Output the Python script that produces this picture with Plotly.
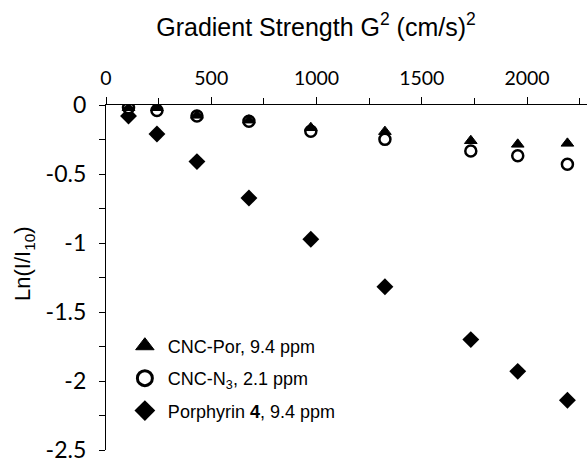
import plotly.graph_objects as go

# Data
g2 = [107, 242, 432, 679, 973, 1325, 1733, 1956, 2192]
cnc_por = [-0.02, -0.02, -0.075, -0.11, -0.165, -0.193, -0.259, -0.285, -0.278]
cnc_n3 = [-0.02, -0.04, -0.08, -0.118, -0.19, -0.249, -0.333, -0.367, -0.43]
porphyrin = [-0.08, -0.21, -0.41, -0.674, -0.973, -1.317, -1.70, -1.93, -2.14]

names = ["CNC-Por, 9.4 ppm", "CNC-N<sub>3</sub>, 2.1 ppm", "Porphyrin <b>4</b>, 9.4 ppm"]

x_tick_vals = [0, 500, 1000, 1500, 2000]
x_tick_text = ["0", "500", "1000", "1500", "2000"]
y_tick_vals = [0, -0.5, -1, -1.5, -2, -2.5]
y_tick_text = ["0", "-0.5", "-1", "-1.5", "-2", "-2.5"]

W, H = 587, 466
ML, MR, MT, MB = 106, 0, 105, 16
PW, PH = W - ML - MR, H - MT - MB

fig = go.Figure()

# data traces (draw order: diamonds, circles, triangles)
fig.add_trace(go.Scatter(x=g2, y=porphyrin, mode="markers", showlegend=False,
                         marker=dict(symbol="diamond", size=13, color="black",
                                     line=dict(width=0))))
fig.add_trace(go.Scatter(x=g2, y=cnc_n3, mode="markers", showlegend=False,
                         marker=dict(symbol="circle", size=11, color="white",
                                     line=dict(width=2.5, color="black"))))
fig.add_trace(go.Scatter(x=g2, y=cnc_por, mode="markers", showlegend=False,
                         marker=dict(symbol="triangle-up", size=11, color="black",
                                     line=dict(width=1, color="black"))))

# legend entries
leg_styles = [
    dict(symbol="triangle-up", size=16, color="black", line=dict(width=1, color="black")),
    dict(symbol="circle", size=15, color="white", line=dict(width=3, color="black")),
    dict(symbol="diamond", size=16, color="black", line=dict(width=0)),
]
for i, (nm, mk) in enumerate(zip(names, leg_styles)):
    fig.add_trace(go.Scatter(x=[None], y=[None], mode="markers", name=nm,
                             marker=mk, legendgroup=f"g{i}", legendrank=i + 1))

fig.update_layout(
    width=W, height=H,
    margin=dict(l=ML, r=MR, t=MT, b=MB),
    plot_bgcolor="white", paper_bgcolor="white",
    title=dict(text="Gradient Strength G<sup>2</sup> (cm/s)<sup>2</sup>",
               font=dict(family="Liberation Sans, Arial", size=25, color="black"),
               x=316 / W, xanchor="center", xref="container",
               y=1 - 27 / H, yanchor="middle", yref="container"),
    legend=dict(x=0.033, y=0.355, xanchor="left", yanchor="top",
                bgcolor="rgba(0,0,0,0)", borderwidth=0,
                font=dict(family="Liberation Sans, Arial", size=18, color="black"),
                traceorder="grouped", tracegroupgap=6, itemwidth=36),
    font=dict(family="Lato", color="black"),
    annotations=[dict(
        text="Ln(I/I<sub>10</sub>)", textangle=-90, showarrow=False,
        xref="paper", yref="paper",
        x=(24 - ML) / PW, y=(H - MB - 264) / PH,
        xanchor="center", yanchor="middle",
        font=dict(family="Liberation Sans, Arial", size=22, color="black"),
    )],
)

fig.update_xaxes(
    side="top", range=[0, 2285], showgrid=False, zeroline=False,
    showline=True, linecolor="black", linewidth=1.3,
    tickmode="array", tickvals=x_tick_vals, ticktext=x_tick_text,
    ticks="outside", ticklen=7, tickwidth=1, tickcolor="black",
    tickfont=dict(family="Lato", size=19.5, color="black"),
    ticklabelstandoff=4,
    minor=dict(tickmode="linear", tick0=0, dtick=250, ticks="outside",
               ticklen=6, tickwidth=1, tickcolor="black", showgrid=False),
)
fig.update_yaxes(
    range=[-2.5, 0], showgrid=False, zeroline=False,
    showline=True, linecolor="black", linewidth=1.3,
    tickmode="array", tickvals=y_tick_vals, ticktext=y_tick_text,
    ticks="outside", ticklen=6, tickwidth=1, tickcolor="black",
    tickfont=dict(family="Lato", size=23, color="black"),
    ticklabelstandoff=8,
    minor=dict(tickmode="linear", tick0=0, dtick=0.25, ticks="outside",
               ticklen=6, tickwidth=1, tickcolor="black", showgrid=False),
)

fig.write_html("out.html")
